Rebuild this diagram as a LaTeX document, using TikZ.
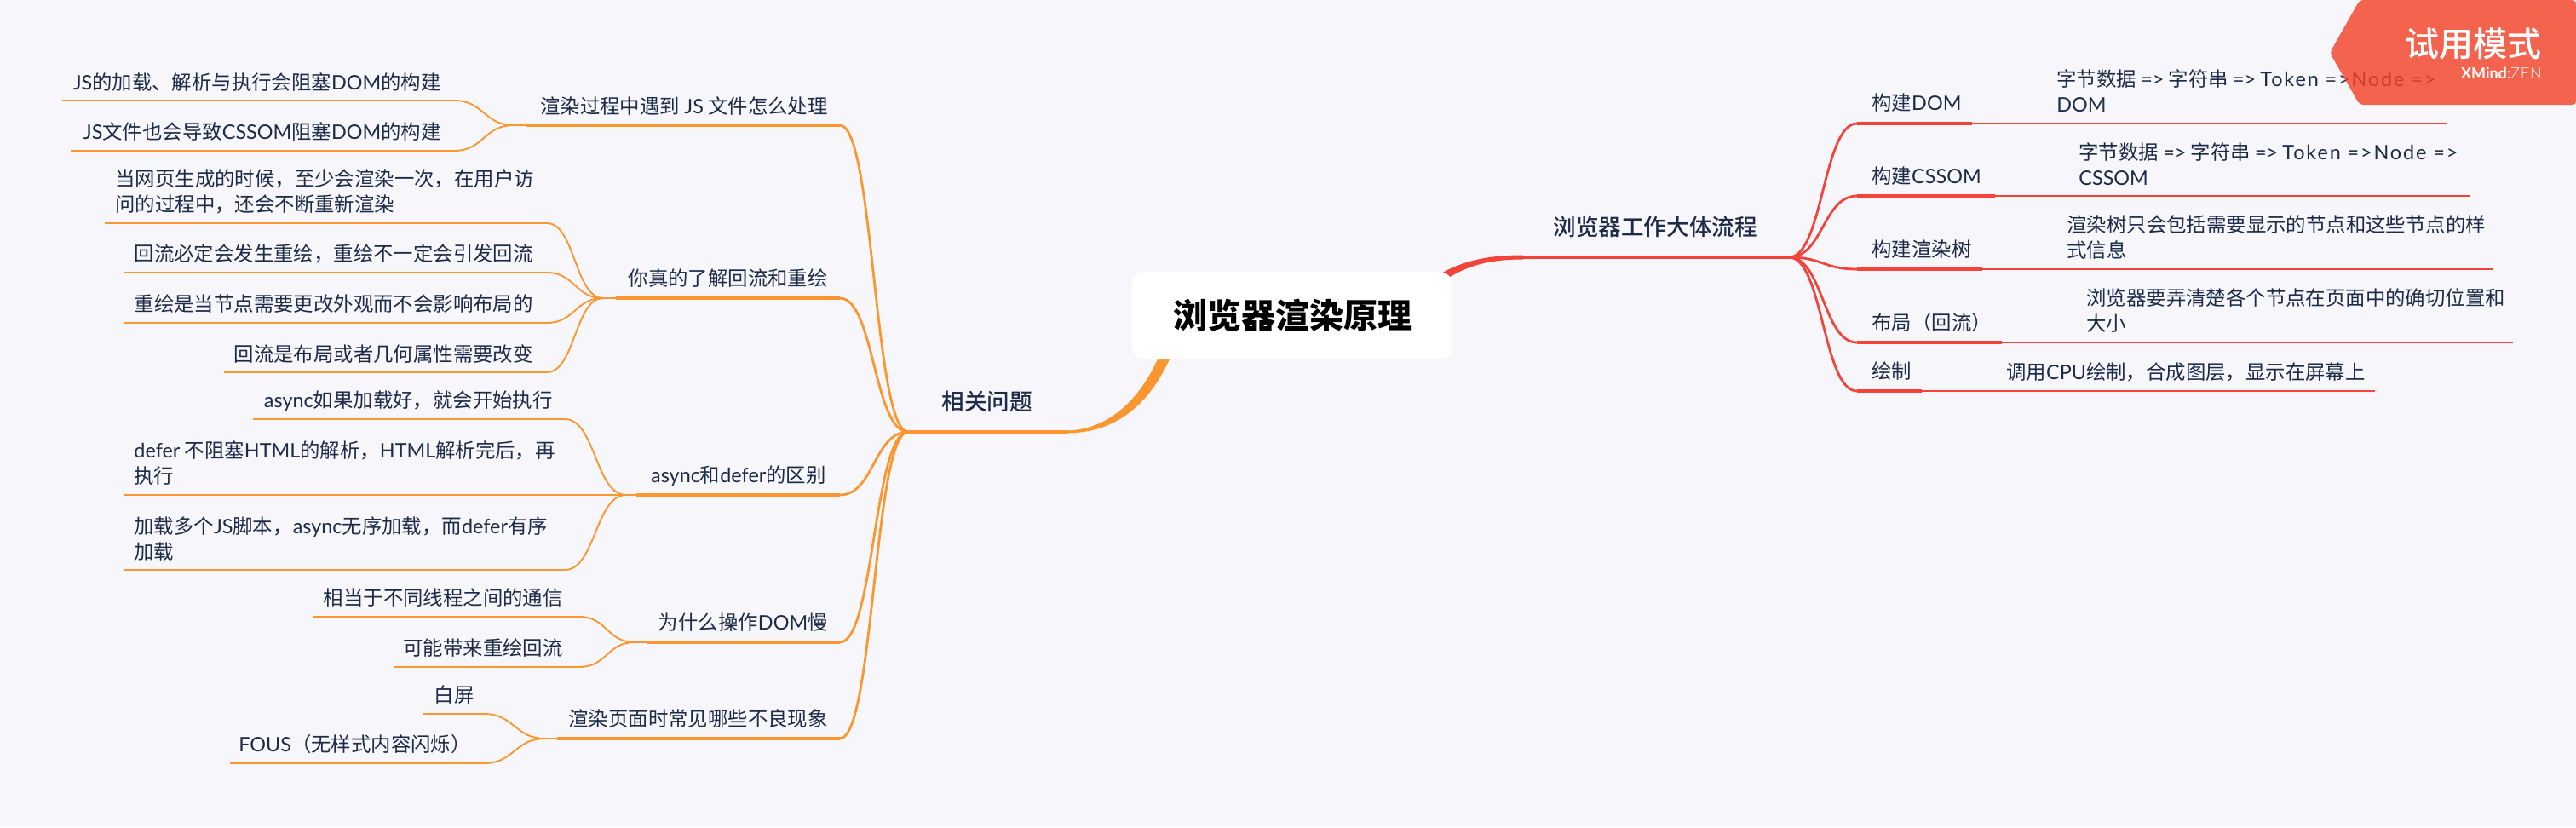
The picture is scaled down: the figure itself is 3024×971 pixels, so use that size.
\documentclass[tikz,border=0pt]{standalone}
\usepackage{fontspec}
\usetikzlibrary{calc}
\setmainfont{Noto Sans CJK SC}
\newfontfamily\cjkm{Noto Sans CJK SC Medium}
\newfontfamily\latf{Lato}
\newfontfamily\latl{Lato Light}[LetterSpace=4]
\newfontfamily\latw{Lato}[LetterSpace=8]
\newcommand\E[1]{{\latf #1}}
\newcommand\Ew[1]{{\latw #1}}
\definecolor{bgc}{HTML}{F6F6FB}
\definecolor{txt}{HTML}{1C2B47}
\definecolor{org}{HTML}{FB9630}
\definecolor{rd}{HTML}{F4433B}
\definecolor{wm}{HTML}{F44329}
\tikzset{
  leaf/.style={inner sep=0pt,text=txt,font=\fontsize{11.7}{15}\selectfont,align=left},
  leafr/.style={leaf,align=left,anchor=west},
  leafl/.style={leaf,anchor=east},
  sub/.style={inner sep=0pt,text=txt,font=\fontsize{13.3}{16}\selectfont\cjkm},
  othin/.style={draw=org,line width=.95pt},
  obranch/.style={draw=org,line width=1.4pt},
  othick/.style={draw=org,line width=1.9pt},
  rthin/.style={draw=rd,line width=.9pt},
  rbranch/.style={draw=rd,line width=1.4pt},
  rthick/.style={draw=rd,line width=1.8pt},
}
\newcommand\link[4]{\draw[#1] (#2) -- (#3) .. controls ($(#3)!.5!(#4 |- #3)$) and ($(#4)!.5!(#3 |- #4)$) .. (#4);}
\newcommand\arc[3]{\draw[#1] (#2) .. controls ($(#2)!.5!(#3 |- #2)$) and ($(#3)!.5!(#2 |- #3)$) .. (#3);}
\begin{document}
\begin{tikzpicture}[x=.5pt,y=-.5pt]
\useasboundingbox (0,0) rectangle (3024,971);
\fill[bgc] (0,0) rectangle (3024,971);
% ---------- hubs
\coordinate (hubL) at (1066,507);
\coordinate (hubR) at (2100,302);
\coordinate (mainO) at (1254,507);
\coordinate (mainR) at (1788,302);
% ---------- trunks into the centre
\fill[org] (1250,505.5) .. controls (1300,505.5) and (1340,470) .. (1364,410)
  -- (1378,410) .. controls (1350,480) and (1305,509) .. (1250,508.5) -- cycle;
\fill[rd] (1788,299.5) .. controls (1745,299.5) and (1715,307) .. (1690,322)
  -- (1694,330) .. controls (1720,313) and (1745,304.5) .. (1788,304.5) -- cycle;
\draw[othick] (hubL) -- (mainO);
\draw[rthick] (mainR) -- (hubR);
% ---------- centre
\node[fill=white,rounded corners=7.5pt,minimum width=188pt,minimum height=51.5pt,inner sep=0pt,
  font=\fontsize{20}{24}\selectfont\bfseries,text=black] (root) at (1517,370.5) {浏览器渲染原理};
% ---------- level 1 titles
\node[sub,anchor=west] (top1) at (1823,266) {浏览器工作大体流程};
\node[sub,anchor=west] (top2) at (1105,471) {相关问题};
% ---------- left branch 1
\node[leafl] (b1) at (972,125) {渲染过程中遇到 \E{JS} 文件怎么处理};
\coordinate (b1s) at (617,147); \coordinate (b1e) at (986,147); \coordinate (j1) at (603,147);
\draw[othick] (b1s) -- (b1e); \arc{obranch}{b1e}{hubL}; \draw[othin] (j1) -- (b1s);
\node[leafl] (a1) at (518,97) {\E{JS}的加载、解析与执行会阻塞\E{DOM}的构建};
\coordinate (a1s) at (73,118); \coordinate (a1e) at (533,118); \link{othin}{a1s}{a1e}{j1}
\node[leafl] (a2) at (518,155) {\E{JS}文件也会导致\E{CSSOM}阻塞\E{DOM}的构建};
\coordinate (a2s) at (83,177); \coordinate (a2e) at (533,177); \link{othin}{a2s}{a2e}{j1}
% ---------- left branch 2
\node[leafl] (b2) at (972,327) {你真的了解回流和重绘};
\coordinate (b2s) at (723,350); \coordinate (b2e) at (986,350); \coordinate (j2) at (708,350);
\draw[othick] (b2s) -- (b2e); \arc{obranch}{b2e}{hubL}; \draw[othin] (j2) -- (b2s);
\node[leafr] (c1) at (135,225) {当网页生成的时候，至少会渲染一次，在用户访\\问的过程中，还会不断重新渲染};
\coordinate (c1s) at (123,262); \coordinate (c1e) at (642,262); \link{othin}{c1s}{c1e}{j2}
\node[leafl] (c2) at (626,298) {回流必定会发生重绘，重绘不一定会引发回流};
\coordinate (c2s) at (146,320); \coordinate (c2e) at (642,320); \link{othin}{c2s}{c2e}{j2}
\node[leafl] (c3) at (626,357) {重绘是当节点需要更改外观而不会影响布局的};
\coordinate (c3s) at (146,379); \coordinate (c3e) at (642,379); \link{othin}{c3s}{c3e}{j2}
\node[leafl] (c4) at (626,416) {回流是布局或者几何属性需要改变};
\coordinate (c4s) at (263,437); \coordinate (c4e) at (642,437); \link{othin}{c4s}{c4e}{j2}
% ---------- left branch 3
\node[leafl] (b3) at (970,559) {\E{async}和\E{defer}的区别};
\coordinate (b3s) at (747,581); \coordinate (b3e) at (986,581); \coordinate (j3) at (735,581);
\draw[othick] (b3s) -- (b3e); \arc{obranch}{b3e}{hubL}; \draw[othin] (j3) -- (b3s);
\node[leafl] (d1) at (649,471) {\E{async}如果加载好，就会开始执行};
\coordinate (d1s) at (297,492); \coordinate (d1e) at (663,492); \link{othin}{d1s}{d1e}{j3}
\node[leafr] (d2) at (157,544) {\E{defer} 不阻塞\E{HTML}的解析，\E{HTML}解析完后，再\\执行};
\coordinate (d2s) at (145,581); \draw[othin] (d2s) -- (j3);
\node[leafr] (d3) at (157,632.5) {加载多个\E{JS}脚本，\E{async}无序加载，而\E{defer}有序\\加载};
\coordinate (d3s) at (145,669); \coordinate (d3e) at (663,669); \link{othin}{d3s}{d3e}{j3}
% ---------- left branch 4
\node[leafl] (b4) at (972,731) {为什么操作\E{DOM}慢};
\coordinate (b4s) at (759,754); \coordinate (b4e) at (986,754); \coordinate (j4) at (745,754);
\draw[othick] (b4s) -- (b4e); \arc{obranch}{b4e}{hubL}; \draw[othin] (j4) -- (b4s);
\node[leafl] (e1) at (661,702) {相当于不同线程之间的通信};
\coordinate (e1s) at (368,724); \coordinate (e1e) at (680,724); \link{othin}{e1s}{e1e}{j4}
\node[leafl] (e2) at (661,761) {可能带来重绘回流};
\coordinate (e2s) at (462,783); \coordinate (e2e) at (680,783); \link{othin}{e2s}{e2e}{j4}
% ---------- left branch 5
\node[leafl] (b5) at (972,844) {渲染页面时常见哪些不良现象};
\coordinate (b5s) at (654,867); \coordinate (b5e) at (986,867); \coordinate (j5) at (640,867);
\draw[othick] (b5s) -- (b5e); \arc{obranch}{b5e}{hubL}; \draw[othin] (j5) -- (b5s);
\node[leafl] (f1) at (557,816) {白屏};
\coordinate (f1s) at (497,838); \coordinate (f1e) at (568,838); \link{othin}{f1s}{f1e}{j5}
\node[leafl] (f2) at (553,874) {\E{FOUS}（无样式内容闪烁）};
\coordinate (f2s) at (270,896); \coordinate (f2e) at (568,896); \link{othin}{f2s}{f2e}{j5}
% ---------- right side
\node[leafr] (r1) at (2197,121) {构建\E{DOM}};
\coordinate (r1s) at (2180,145); \coordinate (r1m) at (2315,145); \coordinate (r1e) at (2872,145);
\arc{rbranch}{hubR}{r1s}; \draw[rthick] (r1s) -- (r1m); \draw[rthin] (r1m) -- (r1e);
\node[leafr] (s1) at (2414,107) {字节数据 \E{=>} 字符串 \E{=>} \Ew{Token =>Node =>}\\\E{DOM}};
\node[leafr] (r2) at (2197,207) {构建\E{CSSOM}};
\coordinate (r2s) at (2180,230); \coordinate (r2m) at (2342,230); \coordinate (r2e) at (2899,230);
\arc{rbranch}{hubR}{r2s}; \draw[rthick] (r2s) -- (r2m); \draw[rthin] (r2m) -- (r2e);
\node[leafr] (s2) at (2440,192.5) {字节数据 \E{=>} 字符串 \E{=>} \Ew{Token =>Node =>}\\\E{CSSOM}};
\node[leafr] (r3) at (2197,293) {构建渲染树};
\coordinate (r3s) at (2180,316); \coordinate (r3m) at (2327,316); \coordinate (r3e) at (2927,316);
\arc{rbranch}{hubR}{r3s}; \draw[rthick] (r3s) -- (r3m); \draw[rthin] (r3m) -- (r3e);
\node[leafr] (s3) at (2426,278.5) {渲染树只会包括需要显示的节点和这些节点的样\\式信息};
\node[leafr] (r4) at (2197,379) {布局（回流）};
\coordinate (r4s) at (2180,402); \coordinate (r4m) at (2350,402); \coordinate (r4e) at (2950,402);
\arc{rbranch}{hubR}{r4s}; \draw[rthick] (r4s) -- (r4m); \draw[rthin] (r4m) -- (r4e);
\node[leafr] (s4) at (2449,365) {浏览器要弄清楚各个节点在页面中的确切位置和\\大小};
\node[leafr] (r5) at (2197,436) {绘制};
\coordinate (r5s) at (2180,459); \coordinate (r5m) at (2256,459); \coordinate (r5e) at (2788,459);
\arc{rbranch}{hubR}{r5s}; \draw[rthick] (r5s) -- (r5m); \draw[rthin] (r5m) -- (r5e);
\node[leafr] (s5) at (2355,437) {调用\E{CPU}绘制，合成图层，显示在屏幕上};
% ---------- watermark
\fill[wm,opacity=.82,rounded corners=2pt] (2770,0) -- (2735,62) -- (2770,123) -- (3024,123) -- (3024,0) -- cycle;
\node[inner sep=0pt,anchor=east,text=white,font=\fontsize{20}{24}\selectfont\cjkm] (wm1) at (2984,51) {试用模式};
\node[inner sep=0pt,anchor=east,text=white,font=\fontsize{9}{12}\selectfont\latf] (wm2) at (2984,86) {\textbf{XMind}:{\latl ZEN}};
\end{tikzpicture}
\end{document}
